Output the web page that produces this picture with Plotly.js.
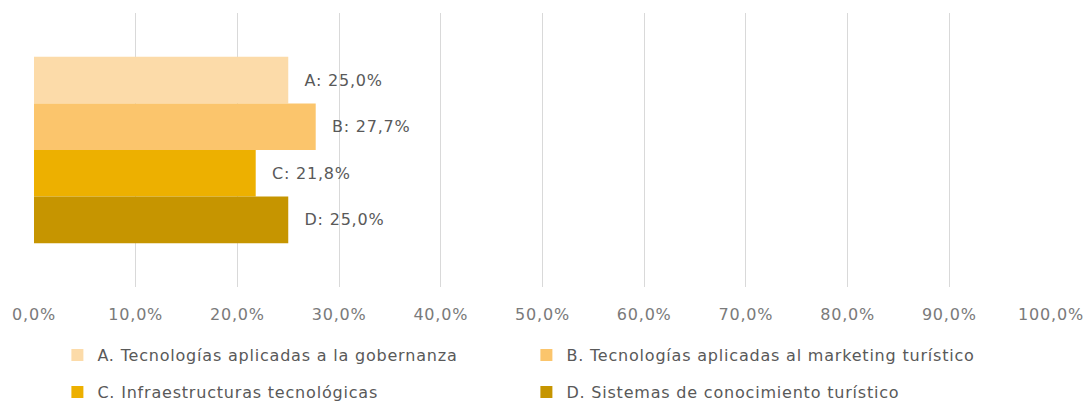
<!DOCTYPE html>
<html><head><meta charset="utf-8">
<script src="https://cdn.plot.ly/plotly-3.0.1.min.js"></script>
<style>html,body{margin:0;padding:0;background:#fff}#c{width:1092px;height:403px}
#c svg text{letter-spacing:0.8px}</style>
</head><body><div id="c"></div>
<script>
const category = ['Total'];
const seriesNames = ['A. Tecnologías aplicadas a la gobernanza','B. Tecnologías aplicadas al marketing turístico','C. Infraestructuras tecnológicas','D. Sistemas de conocimiento turístico'];
const seriesLetters = ['A','B','C','D'];
const seriesValues = [0.250, 0.277, 0.218, 0.250];
const seriesColors = ['#FCDBA9','#FBC56C','#EDB000','#C69500'];
const legendGroups = ['legend','legend','legend2','legend2'];

const FF = 'DejaVu Sans, sans-serif';
const font = {family:FF, size:16, color:'#595959'};
const traces = seriesNames.map((n,i)=>({
  type:'bar', orientation:'h', name:n, y:category, x:[seriesValues[i]],
  marker:{color:seriesColors[i]}, text:[seriesLetters[i]],
  texttemplate:'\u2003%{text}: %{x:.1%}', textposition:'outside', cliponaxis:false,
  textfont:{family:FF, size:16, color:'#595959'},
  legend:legendGroups[i], hoverinfo:'skip'
}));
const legendBase = {orientation:'h', x:0.023, xanchor:'left', yref:'container', yanchor:'middle',
  entrywidth:424, entrywidthmode:'pixels', font:{family:FF, size:16, color:'#595959'}, itemwidth:30};
const layout = {
  width:1092, height:403, margin:{l:34,r:41,t:13,b:116, autoexpand:false},
  paper_bgcolor:'#fff', plot_bgcolor:'#fff', separators:', ',
  barmode:'group', bargap:0.32, bargroupgap:0,
  font:font, showlegend:true,
  xaxis:{range:[0,1], tickformat:'.1%', dtick:0.1, showgrid:true, gridcolor:'#D9D9D9', gridwidth:1,
    zeroline:false, showline:false, ticks:'', ticklen:0, ticklabelstandoff:16,
    tickfont:{family:FF, size:16, color:'#7A7A7A'}, fixedrange:true},
  yaxis:{autorange:'reversed', showticklabels:false, showgrid:false, zeroline:false, ticks:''},
  legend:Object.assign({}, legendBase, {y:0.119}),
  legend2:Object.assign({}, legendBase, {y:0.027})
};
Plotly.newPlot('c', traces, layout, {displayModeBar:false, staticPlot:true});
</script></body></html>
